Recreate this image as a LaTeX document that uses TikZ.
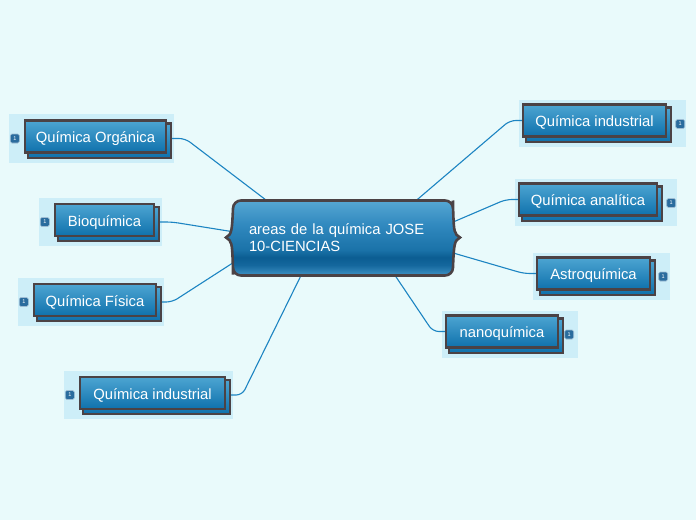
\documentclass[tikz,border=0pt]{standalone}
\usepackage{fontspec}
\setmainfont{Liberation Sans}
\usepackage{tikz}
\usetikzlibrary{backgrounds,calc}

\definecolor{paper}{HTML}{E9FAFB}
\definecolor{halo}{HTML}{CDEEF8}
\definecolor{edgecol}{HTML}{4B4245}
\definecolor{topichi}{HTML}{4DA5D2}
\definecolor{topiclo}{HTML}{0F71AC}
\definecolor{linkcol}{HTML}{1C84C2}
\definecolor{badgecol}{HTML}{2A6C9E}
\definecolor{roota}{HTML}{56A7D3}
\definecolor{rootb}{HTML}{3189BF}
\definecolor{rootc}{HTML}{1A72A8}
\definecolor{rootd}{HTML}{0B5D92}
\definecolor{roote}{HTML}{14679D}
\definecolor{rootf}{HTML}{3F92C4}
\pgfdeclareverticalshading{rootfill}{100bp}{color(0bp)=(rootf); color(25bp)=(rootf); color(32bp)=(roote); color(37bp)=(rootd); color(42bp)=(rootc); color(59bp)=(rootb); color(75bp)=(roota); color(100bp)=(roota)}

\begin{document}
\begin{tikzpicture}[x=1pt,y=-1pt,
  topic/.style={draw=edgecol,line width=2.4pt,top color=topichi,bottom color=topiclo,
    text=white,font=\fontsize{14.8}{17}\selectfont,minimum height=32pt,inner sep=0pt,
    text height=13pt,text depth=1pt},
  twin/.style={draw=edgecol,line width=2.4pt,top color=topichi,bottom color=topiclo},
  badge/.style={draw=badgecol!45,line width=0.6pt,fill=badgecol,rounded corners=1.5pt,
    text=white,font=\fontsize{5.5}{5.5}\selectfont,minimum size=9pt,inner sep=0pt},
  link/.style={draw=linkcol,line width=1.1pt,rounded corners=6pt}]
\useasboundingbox (0,0) rectangle (696,520);

\node[text width=188pt,align=left,minimum width=220pt,minimum height=75pt,inner sep=0pt,
  text=white,font=\fontsize{14.8}{17}\selectfont] (root) at (343,237.5)
  {areas de la química JOSE\\10-CIENCIAS};

\node[topic,minimum width=141pt] (organica) at (95.5,136.5) {Química Orgánica};
\node[topic,minimum width=99pt] (bio) at (104.5,220) {Bioquímica};
\node[topic,minimum width=122pt] (fisica) at (95,300) {Química Física};
\node[topic,minimum width=145pt] (indleft) at (152.5,393) {Química industrial};
\node[topic,minimum width=143pt] (indright) at (594.5,120.5) {Química industrial};
\node[topic,minimum width=138pt] (analitica) at (588,199.5) {Química analítica};
\node[topic,minimum width=113pt] (astro) at (593.5,273.5) {Astroquímica};
\node[topic,minimum width=112pt] (nano) at (502,331.5) {nanoquímica};

\node[badge] (borganica) at ([shift={(-9,2)}]organica.west) {1};
\node[badge] (bbio) at ([shift={(-9,2)}]bio.west) {1};
\node[badge] (bfisica) at ([shift={(-9,2)}]fisica.west) {1};
\node[badge] (bindleft) at ([shift={(-9,2)}]indleft.west) {1};
\node[badge] (bindright) at ([shift={(13,3.5)}]indright.east) {1};
\node[badge] (banalitica) at ([shift={(13,3.5)}]analitica.east) {1};
\node[badge] (bastro) at ([shift={(12,3)}]astro.east) {1};
\node[badge] (bnano) at ([shift={(10,3)}]nano.east) {1};

\begin{scope}[on background layer]
\fill[paper] (0,0) rectangle (696,520);
\foreach \n in {organica,bio,fisica,indleft}
  \fill[halo] ([shift={(-15,-5)}]\n.north west) rectangle ([shift={(7,9)}]\n.south east);
\foreach \n in {indright,analitica,astro,nano}
  \fill[halo] ([shift={(-3,-3)}]\n.north west) rectangle ([shift={(19,9)}]\n.south east);

\draw[link] (root.154) -- ([shift={(18,2)}]organica.east) -- ([shift={(0,2)}]organica.east);
\draw[link] (root.177) -- ([shift={(17,2)}]bio.east) -- ([shift={(0,2)}]bio.east);
\draw[link] (root.193) -- ([shift={(15,2)}]fisica.east) -- ([shift={(0,2)}]fisica.east);
\draw[link] (root.222) -- ([shift={(16,2)}]indleft.east) -- ([shift={(0,2)}]indleft.east);
\draw[link] (root.27.5) -- ([shift={(-12,0)}]indright.west) -- (indright.west);
\draw[link] (root.8.5) -- ([shift={(-12,0)}]analitica.west) -- (analitica.west);
\draw[link] (root.352) -- ([shift={(-12,0)}]astro.west) -- (astro.west);
\draw[link] (root.324) -- ([shift={(-12,0)}]nano.west) -- (nano.west);

\foreach \n in {organica,bio,fisica,indleft,indright,analitica,astro,nano}
  \draw[twin] ([shift={(4,4)}]\n.north west) rectangle ([shift={(4,4)}]\n.south east);

\begin{scope}[shift={(root.center)}]
\shadedraw[shading=rootfill,draw=edgecol,line width=2.6pt]
  (-117,0) .. controls (-111,-3) and (-111,-8) .. (-110,-29)
  [rounded corners=8pt] -- (-110,-37) -- (110,-37) -- (110,-29)
  [sharp corners] .. controls (111,-8) and (111,-3) .. (117,0)
  .. controls (111,3) and (111,8) .. (110,29)
  [rounded corners=8pt] -- (110,38) -- (-110,38) -- (-110,29)
  [sharp corners] .. controls (-111,8) and (-111,3) .. (-117,0) -- cycle;
\end{scope}
\end{scope}
\end{tikzpicture}
\end{document}
